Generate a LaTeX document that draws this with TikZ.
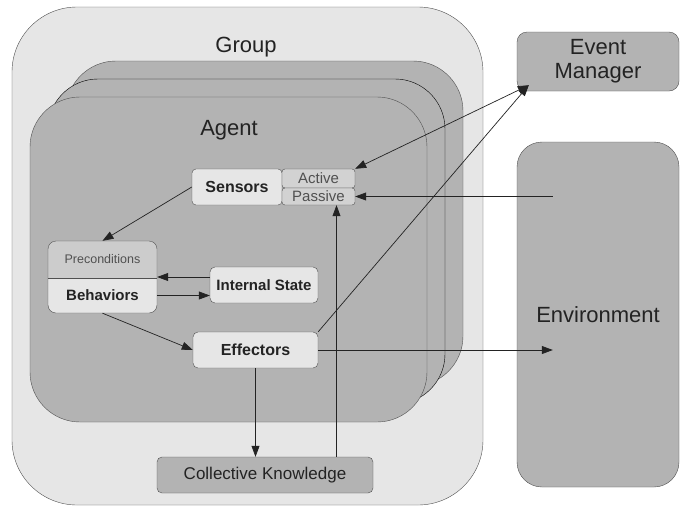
\documentclass[tikz,border=0pt]{standalone}
\usepackage{fontspec}
\setmainfont{Liberation Sans}
\usetikzlibrary{arrows.meta,calc}
\definecolor{paneLight}{RGB}{230,230,230}
\definecolor{paneMid}{RGB}{179,179,179}
\definecolor{paneSoft}{RGB}{210,210,210}
\definecolor{precFill}{RGB}{204,204,204}
\definecolor{edgeGray}{RGB}{80,80,80}
\definecolor{inkGray}{RGB}{35,35,35}

\begin{document}
\begin{tikzpicture}[x=1pt, y=-1pt,
    >={Triangle[length=11pt,width=8pt]},
    frame/.style={draw=edgeGray, inner sep=0pt},
    box/.style={frame, fill=paneLight, rounded corners=5pt, minimum height=36pt, text=inkGray},
    big/.style={font=\fontsize{22}{24}\selectfont, text=inkGray},
    plain/.style={font=\fontsize{17}{20}\selectfont},
    heavy/.style={font=\fontsize{15}{18}\selectfont\bfseries},
    link/.style={draw=inkGray, line width=0.7pt}]
  \fill[white] (0,0) rectangle (688,509);
  \node[frame, fill=paneLight, rounded corners=65pt, minimum width=471pt, minimum height=498pt] (group) at (247.5,256) {};
  \node[big] (grouplbl) at (246,47) {Group};
  % stacked agents, back to front
  \foreach \n/\d/\c in {agentC/36/edgeGray, agentB/18/black, agentA/0/edgeGray}
    \node[frame, draw=\c, fill=paneMid, rounded corners=50pt, minimum width=397pt, minimum height=325pt] (\n) at (228.5+\d,259.5-\d) {};
  \node[big] (agentlbl) at (229,130) {Agent};

  \node[box, heavy, font=\fontsize{16}{19}\selectfont\bfseries, rounded corners=4pt, minimum width=90pt] (sensors) at (237,187) {Sensors};
  \node[box, fill=paneSoft, rounded corners=3pt, minimum width=73pt, minimum height=19pt, font=\fontsize{15}{17}\selectfont, text=edgeGray] (active) at (318.5,178.5) {Active};
  \node[box, fill=paneSoft, rounded corners=3pt, minimum width=73pt, minimum height=17pt, font=\fontsize{15}{17}\selectfont, text=edgeGray] (passive) at (318.5,196.5) {Passive};

  \fill[paneLight, rounded corners=8pt] (48,241) rectangle (157,313);
  \begin{scope}
    \clip[rounded corners=8pt] (48,241) rectangle (157,313);
    \fill[precFill] (48,241) rectangle (157,278);
  \end{scope}
  \draw[edgeGray, rounded corners=8pt] (48,241) rectangle (157,313);
  \draw[edgeGray] (48,278) -- (157,278);
  \node[inner sep=0pt, minimum width=109pt, minimum height=37pt, font=\fontsize{12.5}{15}\selectfont, text=edgeGray] (prec) at (102.5,259.5) {Preconditions};
  \node[heavy, inner sep=0pt, minimum width=109pt, minimum height=35pt, text=inkGray] (behav) at (102.5,295.5) {Behaviors};

  \node[box, heavy, minimum width=108pt] (istate) at (264,285) {Internal State};
  \node[box, font=\fontsize{16}{19}\selectfont\bfseries, minimum width=125pt] (effectors) at (255.5,350) {Effectors};
  \node[box, plain, fill=paneMid, minimum width=216pt] (ck) at (265,475) {Collective Knowledge};

  \node[frame, big, fill=paneMid, rounded corners=10pt, minimum width=162pt, minimum height=59pt, align=center] (evmgr) at (598,61.5) {Event\\Manager};
  \node[frame, big, fill=paneMid, rounded corners=25pt, minimum width=162pt, minimum height=345pt] (env) at (598,314.5) {Environment};

  \coordinate (evin) at ($(evmgr.south west)+(12,-6)$);
  \coordinate (envin) at ($(env.west)+(36,0)$);
  \draw[link,<->] (active.north east) -- (evin);
  \draw[link,->] (effectors.north east) -- (evin);
  \draw[link,->] (passive.east -| envin) -- (passive.east);
  \draw[link,->] (effectors.east) -- (effectors.east -| envin);
  \draw[link,->] (effectors.south) -- (effectors.south |- ck.north);
  \draw[link,->] ([xshift=18pt]passive.south |- ck.north) -- ([xshift=18pt]passive.south);
  \draw[link,->] (sensors.west) -- (prec.north);
  \draw[link,->] (behav.south) -- (effectors.west);
  \draw[link,->] ([yshift=8pt]istate.west) -- ([yshift=8pt]istate.west -| prec.east);
  \draw[link,->] (behav.east) -- (behav.east -| istate.west);
\end{tikzpicture}
\end{document}
